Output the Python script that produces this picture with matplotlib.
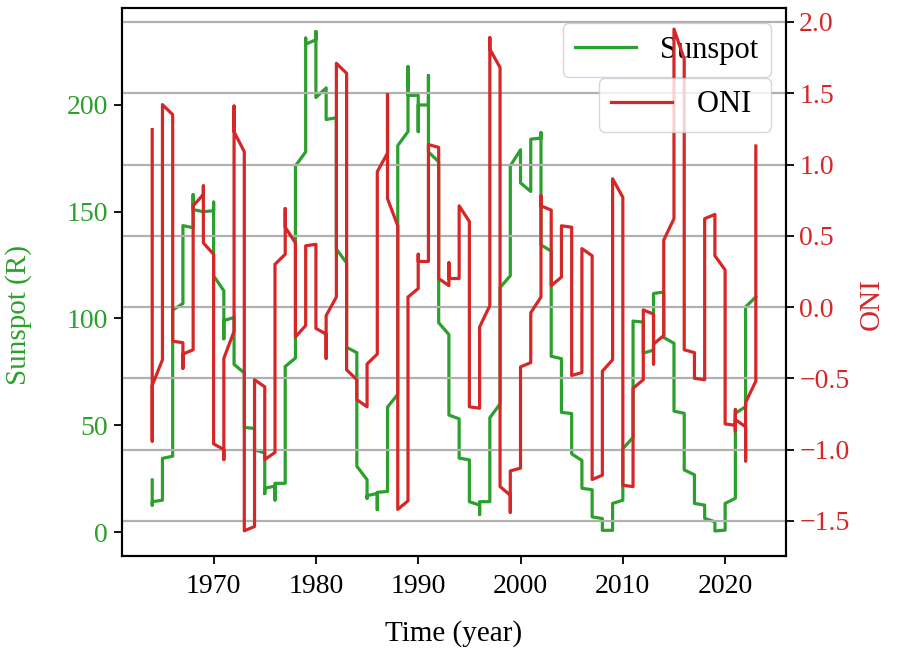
import matplotlib
matplotlib.use("Agg")
import matplotlib.pyplot as plt

plt.rcParams['font.family'] = ['Liberation Serif', 'DejaVu Serif']

# Sunspot number: several readings per year (plotted at the integer year)
ss_year = [1964, 1964, 1964, 1965, 1965, 1966, 1966, 1967, 1967, 1968, 1968, 1968,
           1969, 1970, 1970, 1970, 1971, 1971, 1971, 1972, 1972, 1973, 1973,
           1974, 1974, 1975, 1975, 1975, 1976, 1976, 1976, 1977, 1977, 1978, 1978,
           1979, 1979, 1979, 1980, 1980, 1980, 1981, 1981, 1982, 1982, 1983, 1983,
           1984, 1984, 1985, 1985, 1985, 1986, 1986, 1986, 1987, 1987, 1988, 1988,
           1989, 1989, 1989, 1990, 1990, 1990, 1991, 1991, 1991, 1992, 1992,
           1993, 1993, 1994, 1994, 1995, 1995, 1996, 1996, 1996, 1997, 1997,
           1998, 1998, 1999, 1999, 2000, 2000, 2001, 2001, 2002, 2002, 2002,
           2003, 2003, 2004, 2004, 2005, 2005, 2006, 2006, 2007, 2007, 2008, 2008,
           2009, 2009, 2010, 2010, 2011, 2011, 2012, 2012, 2013, 2013, 2014, 2014,
           2015, 2015, 2016, 2016, 2017, 2017, 2018, 2018, 2019, 2019, 2020, 2020,
           2021, 2021, 2022, 2022, 2023]
ss_value = [24.4, 12.6, 14.2, 14.9, 34.5, 35.5, 104.0, 107.0, 143.5, 142.5, 158.0, 151.0,
            150.0, 150.5, 154.5, 120.0, 113.0, 90.5, 99.0, 100.5, 78.5, 74.5, 49.0,
            48.5, 38.5, 37.0, 18.0, 20.5, 21.5, 15.0, 22.8, 22.8, 77.5, 81.5, 171.5,
            178.0, 231.3, 228.5, 230.5, 234.4, 203.5, 208.0, 193.2, 194.0, 132.5, 126.0, 86.5,
            84.0, 30.8, 24.5, 15.8, 17.0, 18.1, 10.5, 18.6, 19.0, 58.5, 64.5, 181.0,
            187.5, 217.9, 204.5, 204.5, 187.5, 200.0, 200.0, 213.8, 178.0, 173.4, 98.0,
            92.5, 54.8, 53.0, 34.6, 33.8, 14.2, 12.6, 8.2, 14.2, 14.2, 53.5,
            60.0, 114.5, 120.0, 171.5, 179.0, 163.5, 159.5, 184.0, 184.5, 187.0, 134.5,
            131.5, 82.3, 81.2, 56.0, 55.5, 36.6, 33.5, 20.5, 19.8, 7.1, 6.3, 0.8,
            0.8, 13.4, 14.9, 39.0, 44.3, 98.8, 98.3, 83.8, 85.2, 111.7, 112.4, 91.1,
            88.4, 56.6, 55.6, 29.1, 26.8, 13.4, 12.6, 6.4, 4.8, 0.5, 0.9, 13.4,
            15.8, 55.6, 58.7, 105.4, 110.1]

# ONI: several readings per year (plotted at the integer year)
oni_year = [1964, 1964, 1964, 1965, 1965, 1966, 1966, 1967, 1967, 1967, 1968, 1968,
            1969, 1969, 1969, 1970, 1970, 1971, 1971, 1971, 1972, 1972, 1972, 1973, 1973,
            1974, 1974, 1975, 1975, 1976, 1976, 1977, 1977, 1977, 1978, 1978, 1979, 1979,
            1980, 1980, 1981, 1981, 1981, 1982, 1982, 1983, 1983, 1984, 1984, 1985, 1985,
            1986, 1986, 1987, 1987, 1987, 1988, 1988, 1989, 1989, 1990, 1990, 1990,
            1991, 1991, 1992, 1992, 1993, 1993, 1993, 1994, 1994, 1995, 1995, 1996, 1996,
            1997, 1997, 1997, 1998, 1998, 1999, 1999, 1999, 2000, 2000, 2001, 2001,
            2002, 2002, 2002, 2003, 2003, 2004, 2004, 2005, 2005, 2006, 2006, 2007, 2007,
            2008, 2008, 2009, 2009, 2010, 2010, 2011, 2011, 2012, 2012, 2013, 2013, 2013,
            2014, 2014, 2015, 2015, 2016, 2016, 2017, 2017, 2018, 2018, 2019, 2019,
            2020, 2020, 2021, 2021, 2021, 2021, 2022, 2022, 2022, 2023, 2023]
oni_value = [1.245, -0.94, -0.55, -0.37, 1.42, 1.35, -0.24, -0.25, -0.43, -0.33, -0.30, 0.71,
             0.79, 0.85, 0.45, 0.37, -0.96, -1.00, -1.07, -0.36, -0.17, 1.41, 1.23, 1.09, -1.57,
             -1.54, -0.51, -0.56, -1.07, -1.02, 0.30, 0.37, 0.69, 0.56, 0.45, -0.21, -0.13, 0.43,
             0.44, -0.15, -0.19, -0.36, -0.06, 0.07, 1.71, 1.64, -0.44, -0.51, -0.65, -0.70, -0.40,
             -0.33, 0.95, 1.08, 1.49, 0.76, 0.57, -1.42, -1.36, 0.07, 0.13, 0.37, 0.32,
             0.32, 1.14, 1.12, 0.20, 0.15, 0.31, 0.20, 0.20, 0.71, 0.60, -0.70, -0.71, -0.14,
             0.01, 1.89, 1.81, 1.68, -1.26, -1.32, -1.44, -1.15, -1.13, -0.42, -0.39, -0.04,
             0.07, 0.78, 0.71, 0.68, 0.15, 0.21, 0.57, 0.56, -0.48, -0.46, 0.41, 0.36, -1.21,
             -1.18, -0.45, -0.37, 0.90, 0.77, -1.25, -1.26, -0.57, -0.51, -0.02, -0.05, -0.40, -0.26,
             -0.20, 0.47, 0.62, 1.95, 1.74, -0.30, -0.32, -0.50, -0.51, 0.62, 0.65, 0.36,
             0.26, -0.82, -0.83, -0.72, -0.87, -0.79, -0.84, -1.08, -0.67, -0.52, 1.13]

green = '#2ca02c'
red = '#d62728'

fig = plt.figure(figsize=(9.02, 6.52), dpi=100)
ax1 = fig.add_axes([0.1353, 0.1472, 0.7361, 0.8405])
ax1.plot(ss_year, ss_value, color=green, lw=2.3, label='Sunspot')
ax1.set_xlim(1961.05, 2025.95)
ax1.set_ylim(-11.24, 245.4)
ax1.set_xlabel('Time (year)', fontsize=21, labelpad=15)
ax1.set_ylabel('Sunspot (R)', fontsize=21, color=green)
ax1.yaxis.set_label_coords(-0.136, 0.44)
ax1.tick_params(axis='y', labelcolor=green, labelsize=20, length=6, width=1.3, pad=4)
ax1.tick_params(axis='x', labelsize=20, length=6, width=1.3, pad=7)
ax1.set_xticks([1970, 1980, 1990, 2000, 2010, 2020])
ax1.set_yticks([0, 50, 100, 150, 200])
ax1.legend(loc='upper right', fontsize=22)

ax2 = ax1.twinx()
ax2.plot(oni_year, oni_value, color=red, lw=2.3, label='ONI ')
ax2.set_ylim(-1.747, 2.098)
ax2.set_yticks([-1.5, -1.0, -0.5, 0.0, 0.5, 1.0, 1.5, 2.0])
ax2.set_ylabel('ONI', fontsize=21, color=red, rotation=90)
ax2.yaxis.set_label_coords(1.110, 0.46)
ax2.tick_params(axis='y', labelcolor=red, labelsize=20, length=6, width=1.3)
ax2.grid(axis='y', color='#b0b0b0', lw=1.6)
ax2.legend(loc='upper right', bbox_to_anchor=(1, 0.9), fontsize=22)

for ax in (ax1, ax2):
    for s in ax.spines.values():
        s.set_linewidth(1.5)

fig.savefig('out.png', dpi=100)
